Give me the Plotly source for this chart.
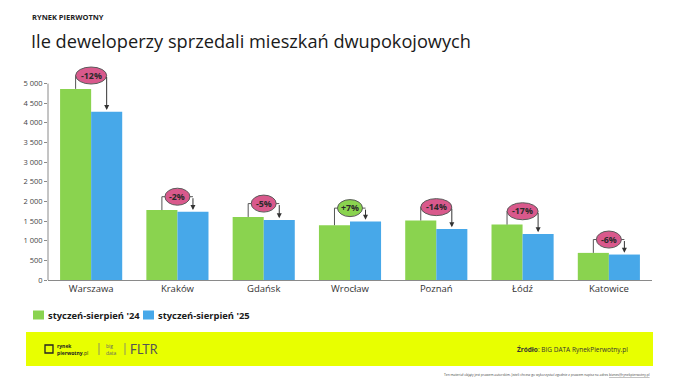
import plotly.graph_objects as go

# ---------------- data ----------------
cities = ["Warszawa", "Kraków", "Gdańsk", "Wrocław", "Poznań", "Łódź", "Katowice"]
sales_24 = [4865, 1780, 1605, 1395, 1515, 1410, 690]
sales_25 = [4280, 1740, 1525, 1490, 1300, 1170, 648]
changes = ["-12%", "-2%", "-5%", "+7%", "-14%", "-17%", "-6%"]
series_names = ["styczeń-sierpień '24", "styczeń-sierpień '25"]
y_tickvals = [0, 500, 1000, 1500, 2000, 2500, 3000, 3500, 4000, 4500, 5000]
y_ticktext = ["0", "500", "1 000", "1 500", "2 000", "2 500", "3 000", "3 500", "4 000", "4 500", "5 000"]

# ---------------- style ----------------
GREEN = "#8AD34F"
BLUE = "#47A8E9"
PINK = "#D9598C"
YELLOW = "#E8FF00"
FONT = "Open Sans"

W, H = 680, 383
ML, MR, MT, MB = 48, 28, 60, 103
PW, PH = W - ML - MR, H - MT - MB


def px(x):
    return (x - ML) / PW


def py(y):
    return (H - MB - y) / PH


fig = go.Figure()
fig.add_trace(go.Bar(x=cities, y=sales_24, name=series_names[0], marker_color=GREEN,
                     marker_line_width=0, showlegend=False))
fig.add_trace(go.Bar(x=cities, y=sales_25, name=series_names[1], marker_color=BLUE,
                     marker_line_width=0, showlegend=False))

shapes = []
annotations = []

# y-axis line (drawn as shape so it stops at 5000)
shapes.append(dict(type="line", xref="paper", yref="y", x0=0, x1=0, y0=0, y1=y_tickvals[-1],
                   line=dict(color="#8a8a8a", width=1)))

# change brackets + bubbles
off = 0.18
for i, (a, b, ch) in enumerate(zip(sales_24, sales_25, changes)):
    top = max(a, b)
    hy = top + 340
    xl, xr = i - off, i + off
    shapes.append(dict(type="path", xref="x", yref="y",
                       path=f"M {xl} {a} L {xl} {hy} L {xr} {hy}",
                       line=dict(color="#555555", width=1)))
    annotations.append(dict(x=xr, y=b + 45, ax=xr, ay=hy, xref="x", yref="y",
                            axref="x", ayref="y", text="", showarrow=True,
                            arrowhead=2, arrowsize=1, arrowwidth=1, arrowcolor="#333333",
                            standoff=0))
    wpx = 6 * len(ch) + 7
    fill = GREEN if ch.startswith("+") else PINK
    shapes.append(dict(type="circle", xref="x", yref="y", xsizemode="pixel", ysizemode="pixel",
                       xanchor=i, yanchor=hy, x0=-wpx / 2, x1=wpx / 2, y0=-8.5, y1=8.5,
                       fillcolor=fill, line=dict(color="#5a5a5a", width=1)))
    annotations.append(dict(x=i, y=hy, xref="x", yref="y", text=f"<b>{ch}</b>", showarrow=False,
                            font=dict(family=FONT, size=8.8, color="#2a2a2a")))

# titles
annotations.append(dict(xref="paper", yref="paper", x=px(30), y=py(17), xanchor="left", yanchor="middle",
                        text="<b>RYNEK PIERWOTNY</b>", showarrow=False,
                        font=dict(family=FONT, size=7.5, color="#222222")))
annotations.append(dict(xref="paper", yref="paper", x=px(29), y=py(41), xanchor="left", yanchor="middle",
                        text="Ile deweloperzy sprzedali mieszkań dwupokojowych", showarrow=False,
                        font=dict(family=FONT, size=18.2, color="#1a1a1a", weight=500)))

# custom legend
legend_items = [(33, GREEN, series_names[0]), (143, BLUE, series_names[1])]
for x0, col, name in legend_items:
    shapes.append(dict(type="rect", xref="paper", yref="paper", x0=px(x0), x1=px(x0 + 11),
                       y0=py(319.5), y1=py(310.5), fillcolor=col, line=dict(width=0)))
    annotations.append(dict(xref="paper", yref="paper", x=px(x0 + 13), y=py(315), xanchor="left",
                            yanchor="middle", text=f"<b>{name}</b>", showarrow=False,
                            font=dict(family=FONT, size=9.4, color="#1a1a1a")))

# footer band
shapes.append(dict(type="rect", xref="paper", yref="paper", x0=px(26), x1=px(653),
                   y0=py(366), y1=py(332), fillcolor=YELLOW, line=dict(width=0), layer="below"))
# logo icon
shapes.append(dict(type="rect", xref="paper", yref="paper", x0=px(45), x1=px(53),
                   y0=py(353), y1=py(345), line=dict(color="#222222", width=1.3)))
annotations.append(dict(xref="paper", yref="paper", x=px(55), y=py(349), xanchor="left", yanchor="middle",
                        text="<b>rynek<br>pierwotny</b>.pl", showarrow=False, align="left",
                        font=dict(family=FONT, size=5, color="#222222")))
for sx in (99, 125):
    shapes.append(dict(type="line", xref="paper", yref="paper", x0=px(sx), x1=px(sx),
                       y0=py(355), y1=py(343), line=dict(color="#777777", width=0.8)))
annotations.append(dict(xref="paper", yref="paper", x=px(104), y=py(349), xanchor="left", yanchor="middle",
                        text="big<br>data", showarrow=False, align="left",
                        font=dict(family=FONT, size=5, color="#666666")))
annotations.append(dict(xref="paper", yref="paper", x=px(128), y=py(349), xanchor="left", yanchor="middle",
                        text="FLTR", showarrow=False,
                        font=dict(family="Lato", size=12.5, color="#555555")))
annotations.append(dict(xref="paper", yref="paper", x=px(630), y=py(349.5), xanchor="right", yanchor="middle",
                        text="<b>Źródło</b>: BIG DATA RynekPierwotny.pl", showarrow=False,
                        font=dict(family=FONT, size=6.5, color="#333333")))
annotations.append(dict(xref="paper", yref="paper", x=px(652), y=py(374), xanchor="right", yanchor="middle",
                        text="Ten materiał objęty jest prawem autorskim. Jeżeli chcesz go wykorzystać zgodnie z prawem napisz na adres "
                             "<u>biznes@rynekpierwotny.pl</u>", showarrow=False,
                        font=dict(family=FONT, size=3.3, color="#444444")))

fig.update_layout(
    width=W, height=H, autosize=False,
    margin=dict(l=ML, r=MR, t=MT, b=MB),
    paper_bgcolor="white", plot_bgcolor="white",
    barmode="group", bargap=0.28, bargroupgap=0,
    shapes=shapes, annotations=annotations,
    showlegend=False,
    font=dict(family=FONT),
)
fig.update_xaxes(showline=True, linecolor="#8a8a8a", linewidth=1, ticks="", showgrid=False,
                 tickfont=dict(family=FONT, size=9.5, color="#333333"), ticklabelstandoff=0)
fig.update_yaxes(range=[0, 5600], tickvals=y_tickvals, ticktext=y_ticktext, ticks="outside",
                 ticklen=3, tickcolor="#8a8a8a", showgrid=False, zeroline=False, showline=False,
                 tickfont=dict(family=FONT, size=7.5, color="#444444"))

fig.write_html("out.html", config={"displayModeBar": False},
               post_script="document.body.style.margin='0';document.body.style.overflow='hidden';")
